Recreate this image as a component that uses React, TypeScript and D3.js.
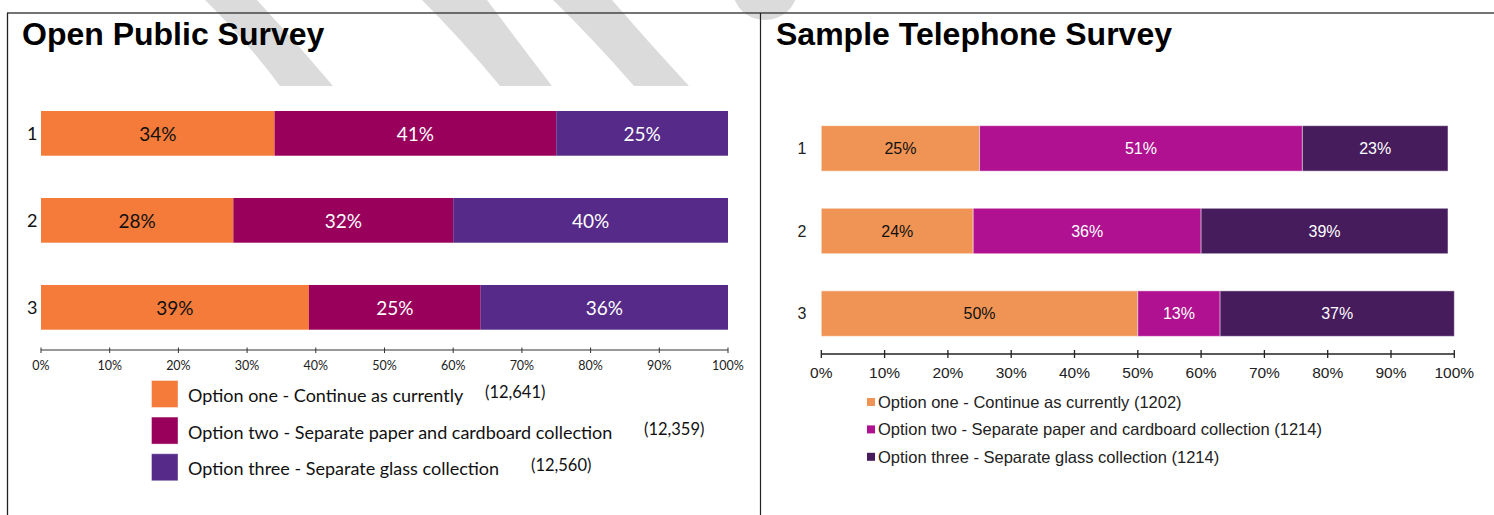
import React from "react";
import * as d3 from "d3";

// ---------- DATA ----------
const categories = ["1", "2", "3"];
const seriesNames = [
  "Option one - Continue as currently",
  "Option two - Separate paper and cardboard collection",
  "Option three - Separate glass collection",
];
// Open Public Survey
const openOne = [34, 28, 39];
const openTwo = [41, 32, 25];
const openThree = [25, 40, 36];
const openCounts = ["(12,641)", "(12,359)", "(12,560)"];
// Sample Telephone Survey
const telOne = [25, 24, 50];
const telTwo = [51, 36, 13];
const telThree = [23, 39, 37];
const telCounts = ["(1202)", "(1214)", "(1214)"];
const tickValues = [0, 10, 20, 30, 40, 50, 60, 70, 80, 90, 100];

// ---------- STYLE / LAYOUT ----------
const W = 1494;
const H = 515;
const leftColors = ["#F47B3A", "#99005C", "#552A88"];
const rightColors = ["#F09455", "#AF1190", "#461C5D"];
const leftText = ["#111", "#fff", "#fff"];
const rightText = ["#111", "#fff", "#fff"];
const openCountX = [485, 644, 531];
const calibri = "Lato, 'Open Sans', sans-serif";
const arial = "'Liberation Sans', Arial, sans-serif";

type Row = { cat: string; v: number[] };

function stackRows(a: number[], b: number[], c: number[]): Row[] {
  return categories.map((cat, i) => ({ cat, v: [a[i], b[i], c[i]] }));
}

function Segments({ rows, x, y, colors, textColors, font, fontSize, stroke }: any) {
  const keys = [0, 1, 2];
  const stack = d3
    .stack<Row, number>()
    .keys(keys as any)
    .value((d: Row, k: number) => d.v[k]);
  const layers = stack(rows);
  return (
    <g>
      {layers.map((layer: any, li: number) =>
        layer.map((seg: any, i: number) => {
          const x0 = x(seg[0]);
          const x1 = x(seg[1]);
          const yy = y(rows[i].cat)!;
          const bw = y.bandwidth();
          return (
            <g key={`${li}-${i}`}>
              <rect
                x={x0}
                y={yy}
                width={x1 - x0}
                height={bw}
                fill={colors[li]}
                stroke={stroke ? stroke : "none"}
                strokeWidth={stroke ? 1 : 0}
              />
              <text
                x={(x0 + x1) / 2}
                y={yy + bw / 2}
                textAnchor="middle"
                dominantBaseline="central"
                fill={textColors[li]}
                fontFamily={font}
                fontSize={fontSize}
              >
                {`${rows[i].v[li]}%`}
              </text>
            </g>
          );
        })
      )}
    </g>
  );
}

export default function App() {
  // Left chart scales
  const xL = d3.scaleLinear().domain([0, 100]).range([41, 728]);
  const yL = d3.scaleBand<string>().domain(categories).range([111, 329.7]).paddingInner(0.486).paddingOuter(0);
  // Right chart scales
  const xR = d3.scaleLinear().domain([0, 100]).range([821.3, 1454.3]);
  const yR = d3.scaleBand<string>().domain(categories).range([125.7, 336.3]).paddingInner(0.45).paddingOuter(0);

  const rowsL = stackRows(openOne, openTwo, openThree);
  const rowsR = stackRows(telOne, telTwo, telThree);

  const axisYL = 350;
  const axisYR = 354;

  return (
    <svg
      width={W}
      height={H}
      style={{ position: "absolute", left: 0, top: 0, background: "#fff" }}
    >
      <rect x={0} y={0} width={W} height={H} fill="#fff" />
      {/* watermark stripes */}
      <defs>
        <clipPath id="wm">
          <rect x={0} y={0} width={W} height={86} />
        </clipPath>
      </defs>
      <g clipPath="url(#wm)" fill="#DBDBDB">
        <path d="M205,0 L257,0 Q296,42 333,86 L280,86 Q244,38 205,0 Z" />
        <path d="M422,0 L487,0 Q520,44 552,86 L500,86 Q462,40 422,0 Z" />
        <path d="M553,0 L612,0 Q650,44 689,86 L634,86 Q594,40 553,0 Z" />
        <ellipse cx={765} cy={-10} rx={32} ry={30} />
      </g>

      {/* frame */}
      <line x1={7} y1={13} x2={W} y2={13} stroke="#444" strokeWidth={1.5} />
      <line x1={7.5} y1={13} x2={7.5} y2={H} stroke="#222" strokeWidth={1.3} />
      <line x1={760.5} y1={13} x2={760.5} y2={H} stroke="#222" strokeWidth={1.2} />

      {/* titles */}
      <text x={22} y={45} fontFamily={arial} fontWeight="bold" fontSize={32} fill="#000">
        Open Public Survey
      </text>
      <text x={776} y={45} fontFamily={arial} fontWeight="bold" fontSize={32} fill="#000">
        Sample Telephone Survey
      </text>

      {/* ---------- LEFT CHART ---------- */}
      <Segments rows={rowsL} x={xL} y={yL} colors={leftColors} textColors={leftText} font={calibri} fontSize={19} />
      {categories.map((c) => (
        <text
          key={c}
          x={37.5}
          y={yL(c)! + yL.bandwidth() / 2}
          textAnchor="end"
          dominantBaseline="central"
          fontFamily={calibri}
          fontSize={18}
          fill="#111"
        >
          {c}
        </text>
      ))}
      <line x1={xL(0)} x2={xL(100)} y1={axisYL} y2={axisYL} stroke="#333" strokeWidth={1} />
      {tickValues.map((t) => (
        <g key={t}>
          <line x1={xL(t)} x2={xL(t)} y1={axisYL - 2.5} y2={axisYL + 3} stroke="#333" strokeWidth={1} />
          <text
            x={xL(t)}
            y={axisYL + 15}
            textAnchor="middle"
            dominantBaseline="central"
            fontFamily={calibri}
            fontSize={12.5}
            fill="#222"
          >
            {`${t}%`}
          </text>
        </g>
      ))}
      {seriesNames.map((s, i) => {
        const yy = 381 + i * 36.6;
        return (
          <g key={s}>
            <rect x={152} y={yy} width={25.5} height={26} fill={leftColors[i]} stroke={leftColors[i]} strokeOpacity={0.6} />
            <text x={188} y={yy + 14} dominantBaseline="central" fontFamily={calibri} fontSize={18} fill="#111">
              {s}
            </text>
            <text x={openCountX[i]} y={yy + 11} dominantBaseline="central" fontFamily={calibri} fontSize={16.5} fill="#111">
              {openCounts[i]}
            </text>
          </g>
        );
      })}

      {/* ---------- RIGHT CHART ---------- */}
      <Segments
        rows={rowsR}
        x={xR}
        y={yR}
        colors={rightColors}
        textColors={rightText}
        font={arial}
        fontSize={16}
        stroke="rgba(255,255,255,0.45)"
      />
      {categories.map((c) => (
        <text
          key={c}
          x={802}
          y={yR(c)! + yR.bandwidth() / 2}
          textAnchor="middle"
          dominantBaseline="central"
          fontFamily={arial}
          fontSize={16}
          fill="#222"
        >
          {c}
        </text>
      ))}
      <line x1={xR(0)} x2={xR(100)} y1={axisYR} y2={axisYR} stroke="#222" strokeWidth={1.3} />
      {tickValues.map((t) => (
        <g key={t}>
          <line x1={xR(t)} x2={xR(t)} y1={axisYR - 4} y2={axisYR + 4} stroke="#222" strokeWidth={1.3} />
          <text
            x={xR(t)}
            y={axisYR + 18}
            textAnchor="middle"
            dominantBaseline="central"
            fontFamily={arial}
            fontSize={15.5}
            fill="#222"
          >
            {`${t}%`}
          </text>
        </g>
      ))}
      {seriesNames.map((s, i) => {
        const cy = 402 + i * 27.4;
        return (
          <g key={s}>
            <rect x={867} y={cy - 4} width={8} height={8} fill={rightColors[i]} />
            <text x={878} y={cy} dominantBaseline="central" fontFamily={arial} fontSize={16.5} fill="#222">
              {`${s} ${telCounts[i]}`}
            </text>
          </g>
        );
      })}
    </svg>
  );
}
